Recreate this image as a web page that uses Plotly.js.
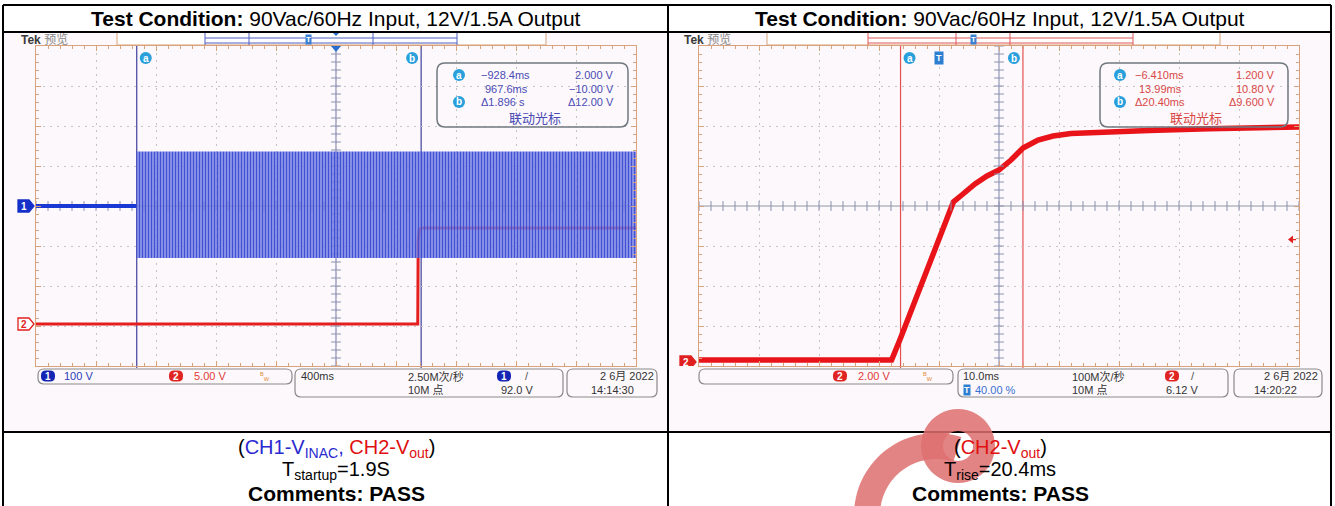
<!DOCTYPE html>
<html><head><meta charset="utf-8">
<script src="https://cdn.plot.ly/plotly-3.0.1.min.js"></script>
<style>html,body{margin:0;padding:0;background:#fff}#chart{width:1335px;height:506px}</style>
</head><body><div id="chart"></div>
<script>
// ================= DATA =================
// Left scope: start-up (time in s)
const leftTimeRange = [-1.6, 2.4];
const leftCh1Range = [-400, 400];          // 100 V/div
const leftCh2Range = [-5.25, 34.75];       // 5 V/div
const ch1FlatTime = [-1.6, -0.93];
const ch1FlatVolt = [0, 0];
const ch1AcTime = [-0.93, 2.4];
const ch1AcUpper = [136, 136];
const ch1AcLower = [-130, -130];
const ch2LeftTime = [-1.6, 0.945, 0.948, 0.955, 0.97, 2.4];
const ch2LeftVolt = [0, 0, 10.5, 11.8, 12.0, 12.0];
const leftCursorTime = [-0.9284, 0.9676];
// Right scope: rise (time in ms)
const rightTimeRange = [-40, 60];
const rightCh2Range = [-0.2, 15.8];        // 2 V/div
const ch2RightTime = [-40, -7.9, -6.4, 2.4, 4, 6, 8, 10, 12, 14, 16.5, 19, 22, 27, 35, 45, 60];
const ch2RightVolt = [0.1, 0.1, 1.2, 8.0, 8.4, 8.9, 9.3, 9.6, 10.1, 10.7, 11.1, 11.3, 11.42, 11.5, 11.58, 11.66, 11.75];
const rightCursorTime = [-6.41, 13.99];
const rightTriggerLevel = [6.12];
// Texts
const titleText = "<b>Test Condition:</b> 90Vac/60Hz Input, 12V/1.5A Output";
const leftReadout = [["−928.4ms", "2.000 V"], ["967.6ms", "−10.00 V"], ["Δ1.896 s", "Δ12.00 V"]];
const rightReadout = [["−6.410ms", "1.200 V"], ["13.99ms", "10.80 V"], ["Δ20.40ms", "Δ9.600 V"]];

// ================= HELPERS =================
const W = 1335, H = 506;
const FONT = 'Liberation Sans, Arial, Noto Sans CJK SC, sans-serif';
const TAN = '#d8a37c';
const X = x => (x / W).toFixed(5), Y = y => (1 - y / H).toFixed(5);
const shapes = [], annotations = [];
function rr(x0, y0, x1, y1, r) {
  return `M${X(x0 + r)},${Y(y0)} L${X(x1 - r)},${Y(y0)} Q${X(x1)},${Y(y0)} ${X(x1)},${Y(y0 + r)} L${X(x1)},${Y(y1 - r)} Q${X(x1)},${Y(y1)} ${X(x1 - r)},${Y(y1)} L${X(x0 + r)},${Y(y1)} Q${X(x0)},${Y(y1)} ${X(x0)},${Y(y1 - r)} L${X(x0)},${Y(y0 + r)} Q${X(x0)},${Y(y0)} ${X(x0 + r)},${Y(y0)} Z`;
}
function pathP(path, line, fill, layer) {
  shapes.push({type: 'path', xref: 'paper', yref: 'paper', path, line: line || {width: 0}, fillcolor: fill || 'rgba(0,0,0,0)', layer: layer || 'above'});
}
function lineP(x0, y0, x1, y1, color, w, layer) {
  shapes.push({type: 'line', xref: 'paper', yref: 'paper', x0: x0 / W, y0: 1 - y0 / H, x1: x1 / W, y1: 1 - y1 / H, line: {color, width: w}, layer: layer || 'above'});
}
function ann(o) {
  annotations.push(Object.assign({showarrow: false, xanchor: 'center', yanchor: 'middle', borderpad: 0}, o));
}
function txt(x, y, text, o) {
  o = o || {};
  ann({xref: 'paper', yref: 'paper', x: x / W, y: 1 - y / H, text, xanchor: o.xa || 'center',
    font: {family: o.family || FONT, size: o.size || 11, color: o.color || '#333'}});
}
function badge(x, y, label, color) {
  pathP(rr(x - 7, y - 5.5, x + 7, y + 5.5, 5), {width: 0}, color);
  txt(x, y, '<b>' + label + '</b>', {size: 10, color: '#fff'});
}
function scopeAxis(domain, range, dtick, minor) {
  return {domain, range, dtick, tick0: range[0], showgrid: true, gridcolor: '#c4c4c4', griddash: '2px,5px', gridwidth: 1,
    zeroline: false, showline: true, linecolor: TAN, linewidth: 1, mirror: 'ticks', ticks: 'inside', ticklen: 5,
    tickcolor: TAN, tickwidth: 1, showticklabels: false, fixedrange: true,
    minor: {dtick: minor, tick0: range[0], ticks: 'inside', ticklen: 3, tickcolor: TAN, showgrid: false}};
}
const mid = r => (r[0] + r[1]) / 2;
function centerTicks(xr, xstep, yr, ystep, xa, ya) {
  const hx = [], hy = [], vx = [], vy = [];
  for (let v = xr[0]; v <= xr[1] + 1e-9; v += xstep) { hx.push(v); hy.push(mid(yr)); }
  for (let v = yr[0]; v <= yr[1] + 1e-9; v += ystep) { vx.push(mid(xr)); vy.push(v); }
  return [
    {x: hx, y: hy, xaxis: xa, yaxis: ya, mode: 'markers', hoverinfo: 'skip', marker: {symbol: 'line-ns', size: 7, line: {width: 1, color: '#8a90ae'}}},
    {x: vx, y: vy, xaxis: xa, yaxis: ya, mode: 'markers', hoverinfo: 'skip', marker: {symbol: 'line-ew', size: 7, line: {width: 1, color: '#8a90ae'}}}
  ];
}

// ================= BACKGROUNDS =================
pathP(rr(4, 33, 667, 431, 0), {width: 0}, '#fcf8fb', 'below');
pathP(rr(669, 33, 1330, 431, 0), {width: 0}, '#fcf8fb', 'below');

// ================= TRACES =================
// main left subplot 'xy' = CH2 (drawn first), overlay 'xy2' = CH1 (drawn above, semi-transparent)
const traces = [
  {x: ch2LeftTime, y: ch2LeftVolt, xaxis: 'x', yaxis: 'y', mode: 'lines', line: {color: '#e41e1e', width: 3}, hoverinfo: 'skip'}
].concat(centerTicks(leftTimeRange, 0.08, leftCh2Range, 1, 'x', 'y'))
 .concat([
  {x: ch1FlatTime, y: ch1FlatVolt, xaxis: 'x', yaxis: 'y2', mode: 'lines', line: {color: '#1a38d4', width: 4}, hoverinfo: 'skip'},
  {x: ch1AcTime, y: ch1AcUpper, xaxis: 'x', yaxis: 'y2', mode: 'lines', line: {width: 0, color: 'rgba(0,0,0,0)'}, hoverinfo: 'skip'},
  {x: ch1AcTime, y: ch1AcLower, xaxis: 'x', yaxis: 'y2', mode: 'lines', line: {width: 0, color: 'rgba(0,0,0,0)'}, fill: 'tonexty',
    fillcolor: 'rgba(100,114,224,0.8)',
    fillpattern: {shape: '|', size: 3, solidity: 0.5, fgcolor: 'rgba(52,68,210,0.88)', bgcolor: 'rgba(128,140,230,0.78)', fgopacity: 1}, hoverinfo: 'skip'},
  {x: ch2RightTime, y: ch2RightVolt, xaxis: 'x3', yaxis: 'y3', mode: 'lines', line: {color: '#e8141a', width: 5.5}, hoverinfo: 'skip'}
]).concat(centerTicks(rightTimeRange, 2, rightCh2Range, 0.4, 'x3', 'y3'));

// ================= SCOPE DECORATIONS =================
shapes.push({type: 'line', xref: 'x', yref: 'y domain', x0: mid(leftTimeRange), x1: mid(leftTimeRange), y0: 0, y1: 1, line: {color: '#6c74a8', width: 1}, layer: 'below'});
shapes.push({type: 'line', xref: 'x domain', yref: 'y', x0: 0, x1: 1, y0: mid(leftCh2Range), y1: mid(leftCh2Range), line: {color: '#9098a8', width: 1}, layer: 'below'});
shapes.push({type: 'line', xref: 'x3', yref: 'y3 domain', x0: mid(rightTimeRange), x1: mid(rightTimeRange), y0: 0, y1: 1, line: {color: '#7c84b4', width: 1}, layer: 'below'});
shapes.push({type: 'line', xref: 'x3 domain', yref: 'y3', x0: 0, x1: 1, y0: mid(rightCh2Range), y1: mid(rightCh2Range), line: {color: '#9098a8', width: 1}, layer: 'below'});
function cursors(times, xref, color) {
  times.forEach((t, i) => {
    shapes.push({type: 'line', xref, yref: 'paper', x0: t, x1: t, y0: 1 - 368 / H, y1: 1 - 46 / H, line: {color, width: 1.2}, layer: 'below'});
    const off = i === 0 ? 9 : -9;
    shapes.push({type: 'circle', xref, xsizemode: 'pixel', xanchor: t, x0: off - 6, x1: off + 6, yref: 'paper', y0: 1 - 64 / H, y1: 1 - 52 / H, fillcolor: '#29a0dc', line: {width: 0}});
    ann({xref, yref: 'paper', x: t, xshift: off, y: 1 - 58 / H, text: '<b>' + (i === 0 ? 'a' : 'b') + '</b>', font: {family: FONT, size: 10, color: '#fff'}});
  });
}
cursors(leftCursorTime, 'x', '#40409c');
cursors(rightCursorTime, 'x3', '#e65050');

function chMarker(xpx, yref, label, fill, stroke, tcolor) {
  shapes.push({type: 'path', xref: 'paper', xsizemode: 'pixel', xanchor: xpx / W, yref, ysizemode: 'pixel', yanchor: 0,
    path: 'M0,-6 L11,-6 L16,0 L11,6 L0,6 Z', fillcolor: fill, line: {color: stroke, width: 1.3}});
  ann({xref: 'paper', x: (xpx + 6) / W, yref, y: 0, text: '<b>' + label + '</b>', font: {family: FONT, size: 10, color: tcolor}});
}
chMarker(18, 'y2', '1', '#1530c8', '#1530c8', '#fff');
chMarker(18, 'y', '2', '#ffffff', '#e02020', '#e02020');
chMarker(680, 'y3', '2', '#e02020', '#e02020', '#fff');
shapes.push({type: 'path', xref: 'paper', xsizemode: 'pixel', xanchor: 1292 / W, yref: 'y3', ysizemode: 'pixel', yanchor: rightTriggerLevel[0],
  path: 'M-4,0 L1,-4 L1,4 Z M1,-0.7 L4,-0.7 L4,0.7 L1,0.7 Z', fillcolor: '#e02020', line: {width: 0}});
pathP(`M${X(331)},${Y(46)} L${X(341)},${Y(46)} L${X(336)},${Y(52)} Z`, {width: 0}, '#2a6fd0');
ann({xref: 'x3', yref: 'paper', x: 0, y: 1 - 58 / H, text: '<b>T</b>', bgcolor: '#2d7fd2', borderpad: 1, font: {family: FONT, size: 9, color: '#fff'}});

function recBar(x0, x1, lx0, lx1, verts, color, tx) {
  pathP(rr(x0, 32, x1, 45, 0), {color: TAN, width: 1}, '#ffffff');
  lineP(lx0, 38, lx1, 38, color, 1.2);
  lineP(lx0, 43, lx1, 43, color, 1.2);
  verts.forEach(v => lineP(v, 33, v, 45, color, 1));
  ann({xref: 'paper', yref: 'paper', x: tx / W, y: 1 - 40 / H, text: '<b>T</b>', bgcolor: '#3a7fd0', font: {family: FONT, size: 8, color: '#fff'}});
}
recBar(117, 546, 205, 457, [205, 249, 373, 457], '#5060c4', 308);
pathP(`M${X(332)},${Y(32)} L${X(340)},${Y(32)} L${X(336)},${Y(36)} Z`, {width: 0}, '#2a6fd0');
recBar(767, 1220, 868, 1133, [868, 956, 1010, 1133], '#e05858', 973);

txt(20, 40, "<b>Tek</b> <span style='color:#8a8a8a'>预览</span>", {xa: 'left', size: 12, color: '#3a3a3a'});
txt(683, 40, "<b>Tek</b> <span style='color:#8a8a8a'>预览</span>", {xa: 'left', size: 12, color: '#3a3a3a'});

function readout(x0, x1, rows, color, cx, lx, rx) {
  pathP(rr(x0, 63, x1, 127, 8), {color: '#707880', width: 1.5});
  const ys = [75, 89, 102];
  rows.forEach((r, i) => {
    txt(i === 1 ? lx + 4 : lx, ys[i], r[0], {xa: 'left', color});
    txt(rx, ys[i], r[1], {xa: 'right', color});
  });
  [0, 2].forEach((i, k) => {
    shapes.push({type: 'circle', xref: 'paper', yref: 'paper', x0: (cx - 6) / W, x1: (cx + 6) / W, y0: 1 - (ys[i] + 6) / H, y1: 1 - (ys[i] - 6) / H, fillcolor: '#29a0dc', line: {width: 0}});
    txt(cx, ys[i], '<b>' + (k === 0 ? 'a' : 'b') + '</b>', {size: 10, color: '#fff'});
  });
  txt((x0 + x1) / 2 + 2, 119, '联动光标', {size: 13, color});
}
readout(437, 628, leftReadout, '#4b4bb5', 459, 480, 615);
readout(1100, 1288, rightReadout, '#d94848', 1120, 1134, 1276);

const BOX = {color: '#8a8a8a', width: 1.2};
function bwIcon(x) { txt(x, 376, "<sup>B</sup><sub>W</sub>", {size: 8, color: '#e08a30'}); }
pathP(rr(38, 369, 292, 384, 6), BOX); pathP(rr(295, 369, 563, 397, 6), BOX); pathP(rr(567, 369, 657, 397, 6), BOX);
badge(48, 376, '1', '#1424b4'); txt(63, 376, '100 V', {xa: 'left', color: '#2b3cb8'});
badge(176, 376, '2', '#e02424'); txt(193, 376, '5.00 V', {xa: 'left', color: '#e03a3a'});
bwIcon(265);
txt(300, 376, '400ms', {xa: 'left'}); txt(407, 376, '2.50M次/秒', {xa: 'left'}); badge(504, 376, '1', '#1424b4'); txt(524, 376, '/', {xa: 'left', color: '#555'});
txt(407, 390, '10M 点', {xa: 'left'}); txt(500, 390, '92.0 V', {xa: 'left'});
txt(655, 376, '2 6月 2022', {xa: 'right'}); txt(590, 390, '14:14:30', {xa: 'left'});
pathP(rr(699, 369, 953, 384, 6), BOX); pathP(rr(958, 369, 1228, 397, 6), BOX); pathP(rr(1234, 369, 1322, 397, 6), BOX);
badge(840, 376, '2', '#e02424'); txt(857, 376, '2.00 V', {xa: 'left', color: '#e03a3a'});
bwIcon(928);
txt(962, 376, '10.0ms', {xa: 'left'});
ann({xref: 'paper', yref: 'paper', x: 967 / W, y: 1 - 390 / H, text: '<b>T</b>', bgcolor: '#2d7fd2', font: {family: FONT, size: 9, color: '#fff'}});
txt(974, 390, '40.00 %', {xa: 'left', color: '#3a70d0'});
txt(1071, 376, '100M次/秒', {xa: 'left'}); txt(1071, 390, '10M 点', {xa: 'left'});
badge(1172, 376, '2', '#e02424'); txt(1190, 376, '/', {xa: 'left', color: '#555'});
txt(1165, 390, '6.12 V', {xa: 'left'});
txt(1319, 376, '2 6月 2022', {xa: 'right'}); txt(1253, 390, '14:20:22', {xa: 'left'});

// table
[[3, 5, 1331, 5], [3, 32, 1331, 32], [3, 432, 1331, 432], [3, 5, 3, 506], [668, 5, 668, 506], [1331, 5, 1331, 506]]
  .forEach(l => lineP(l[0], l[1], l[2], l[3], '#000', 2));

// watermark (decorative logo)
function arc(cx, cy, r, a0, a1, n) {
  const p = [];
  for (let i = 0; i <= n; i++) { const a = (a0 + (a1 - a0) * i / n) * Math.PI / 180; p.push([cx + r * Math.cos(a), cy - r * Math.sin(a)]); }
  return p;
}
function poly(pts) { return pts.map((p, i) => (i ? 'L' : 'M') + X(p[0]) + ',' + Y(p[1])).join(' '); }
pathP(poly(arc(936, 515, 82, 72, 200, 40).concat(arc(936, 515, 56, 200, 72, 40))) + ' Z', {width: 0}, 'rgba(222,110,110,0.85)');
pathP(poly(arc(958, 446, 37, 0, 360, 48)) + ' Z ' + poly(arc(958, 446, 15, 360, 0, 48)) + ' Z', {width: 0}, 'rgba(222,110,110,0.85)');

// titles & captions
const TF = 'Liberation Sans, Arial, sans-serif';
txt(336, 18.5, titleText, {size: 21, color: '#000', family: TF});
txt(1000, 18.5, titleText, {size: 21, color: '#000', family: TF});
const BL = '#2a2ad0', RD = '#e01010';
txt(336, 448, `(<span style="color:${BL}">CH1-V<sub>INAC</sub>,</span> <span style="color:${RD}">CH2-V<sub>out</sub></span>)`, {size: 20, color: '#000', family: TF});
txt(336, 470, 'T<sub>startup</sub>=1.9S', {size: 20, color: '#000', family: TF});
txt(336, 493, '<b>Comments: PASS</b>', {size: 21, color: '#000', family: TF});
txt(1000, 448, `(<span style="color:${RD}">CH2-V<sub>out</sub></span>)`, {size: 20, color: '#000', family: TF});
txt(1000, 470, 'T<sub>rise</sub>=20.4ms', {size: 20, color: '#000', family: TF});
txt(1000, 493, '<b>Comments: PASS</b>', {size: 21, color: '#000', family: TF});

// ================= LAYOUT =================
const layout = {
  width: W, height: H, margin: {l: 0, r: 0, t: 0, b: 0}, paper_bgcolor: '#ffffff', plot_bgcolor: 'rgba(0,0,0,0)', showlegend: false,
  xaxis: Object.assign(scopeAxis([36 / W, 636 / W], leftTimeRange, 0.4, 0.08), {anchor: 'y'}),
  yaxis: Object.assign(scopeAxis([1 - 366 / H, 1 - 46 / H], leftCh2Range, 5, 1), {anchor: 'x'}),
  yaxis2: {overlaying: 'y', anchor: 'x', range: leftCh1Range, visible: false, fixedrange: true},
  xaxis3: Object.assign(scopeAxis([699 / W, 1299 / W], rightTimeRange, 10, 2), {anchor: 'y3'}),
  yaxis3: Object.assign(scopeAxis([1 - 366 / H, 1 - 46 / H], rightCh2Range, 2, 0.4), {anchor: 'x3'}),
  shapes, annotations
};
Plotly.newPlot('chart', traces, layout, {staticPlot: true, displayModeBar: false});
</script></body></html>
